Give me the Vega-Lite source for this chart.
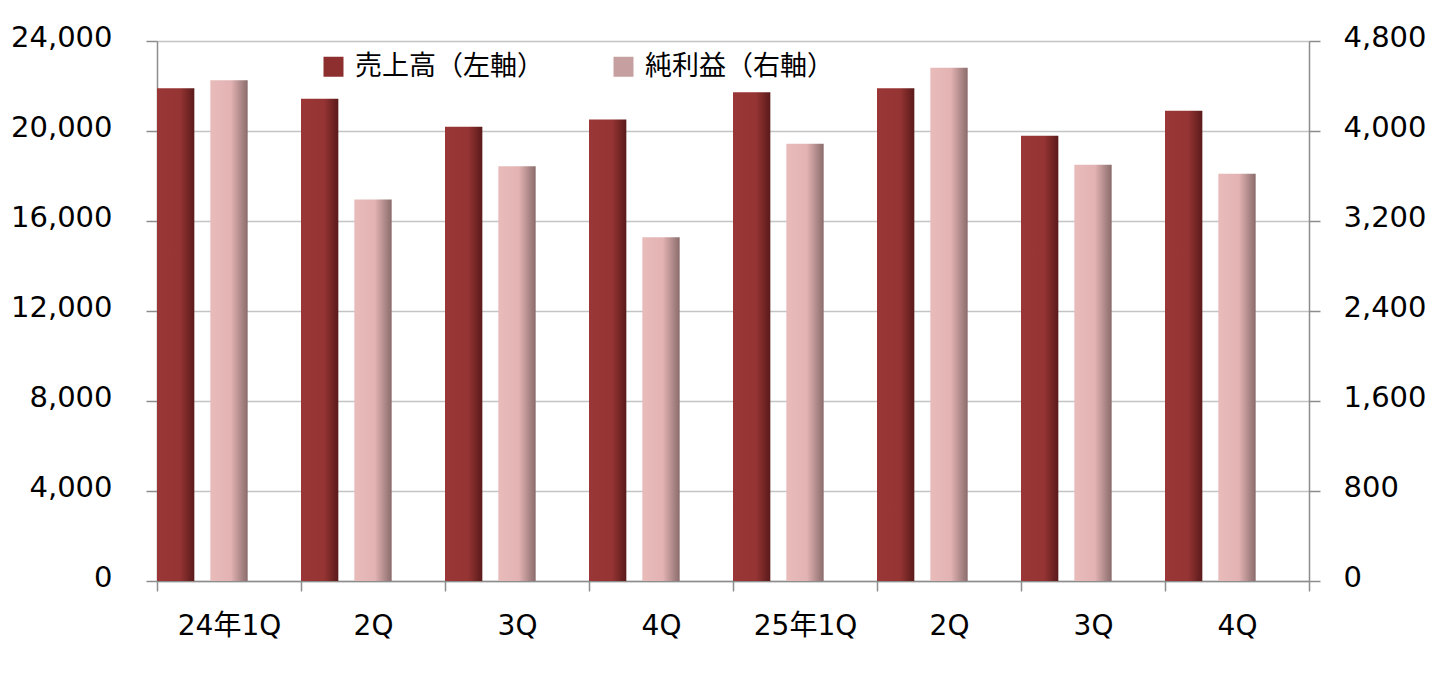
{
  "$schema": "https://vega.github.io/schema/vega-lite/v6.json",
  "autosize": "none",
  "width": 1152,
  "height": 540,
  "padding": {"left": 157, "top": 41, "right": 147, "bottom": 95},
  "background": "white",
  "config": {
    "view": {"stroke": null},
    "font": "DejaVu Sans, Noto Sans CJK JP",
    "axis": {"labelFont": "DejaVu Sans, Noto Sans CJK JP", "labelColor": "#000000", "titleColor": "#000000"}
  },
  "data": {
    "values": [
      {"q": "24年1Q", "series": "売上高（左軸）", "value": 21900},
      {"q": "24年2Q", "series": "売上高（左軸）", "value": 21430},
      {"q": "24年3Q", "series": "売上高（左軸）", "value": 20190},
      {"q": "24年4Q", "series": "売上高（左軸）", "value": 20510},
      {"q": "25年1Q", "series": "売上高（左軸）", "value": 21720},
      {"q": "25年2Q", "series": "売上高（左軸）", "value": 21900},
      {"q": "25年3Q", "series": "売上高（左軸）", "value": 19790},
      {"q": "25年4Q", "series": "売上高（左軸）", "value": 20900},
      {"q": "24年1Q", "series": "純利益（右軸）", "value": 4452},
      {"q": "24年2Q", "series": "純利益（右軸）", "value": 3391},
      {"q": "24年3Q", "series": "純利益（右軸）", "value": 3687},
      {"q": "24年4Q", "series": "純利益（右軸）", "value": 3056},
      {"q": "25年1Q", "series": "純利益（右軸）", "value": 3886},
      {"q": "25年2Q", "series": "純利益（右軸）", "value": 4562},
      {"q": "25年3Q", "series": "純利益（右軸）", "value": 3700},
      {"q": "25年4Q", "series": "純利益（右軸）", "value": 3620}
    ]
  },
  "encoding": {
    "x": {
      "field": "q",
      "type": "nominal",
      "sort": null,
      "scale": {"paddingInner": 0, "paddingOuter": 0},
      "axis": {
        "title": null,
        "labelAngle": 0,
        "labelFontSize": 28,
        "labelExpr": "indexof(datum.label, '1Q') >= 0 ? datum.label : substring(datum.label, 3)",
        "labelPadding": 21,
        "domainColor": "#8c8c8c",
        "domainWidth": 1.5,
        "tickColor": "#8c8c8c",
        "tickWidth": 1.5,
        "tickSize": 10,
        "tickBand": "extent",
        "grid": false
      }
    },
    "xOffset": {
      "field": "series",
      "type": "nominal",
      "scale": {"domain": ["売上高（左軸）", "純利益（右軸）", "_"], "paddingInner": 0.3, "paddingOuter": 0}
    }
  },
  "layer": [
    {
      "transform": [{"filter": "datum.series === '売上高（左軸）'"}],
      "mark": {
        "type": "bar",
        "strokeWidth": 0,
        "fill": {"gradient": "linear", "x1": 0, "y1": 0, "x2": 1, "y2": 0, "stops": [
          {"offset": 0, "color": "#9a3736"},
          {"offset": 0.62, "color": "#943433"},
          {"offset": 1, "color": "#5a1a1a"}
        ]}
      },
      "encoding": {
        "y": {
          "field": "value",
          "type": "quantitative",
          "scale": {"domain": [0, 24000], "nice": false},
          "axis": {
            "title": null,
            "orient": "left",
            "values": [0, 4000, 8000, 12000, 16000, 20000, 24000],
            "format": ",.0f",
            "labelFontSize": 29,
            "labelPadding": 34,
            "labelOffset": -4,
            "domainColor": "#8c8c8c",
            "domainWidth": 1.5,
            "tickColor": "#8c8c8c",
            "tickWidth": 1.5,
            "tickSize": 11,
            "grid": true,
            "gridColor": "#c4c4c4",
            "gridWidth": 1.5
          }
        }
      }
    },
    {
      "transform": [{"filter": "datum.series === '純利益（右軸）'"}],
      "mark": {
        "type": "bar",
        "strokeWidth": 0,
        "fill": {"gradient": "linear", "x1": 0, "y1": 0, "x2": 1, "y2": 0, "stops": [
          {"offset": 0, "color": "#e8bbbb"},
          {"offset": 0.55, "color": "#e3b3b3"},
          {"offset": 1, "color": "#8a6c6c"}
        ]}
      },
      "encoding": {
        "y": {
          "field": "value",
          "type": "quantitative",
          "scale": {"domain": [0, 4800], "nice": false},
          "axis": {
            "title": null,
            "orient": "right",
            "values": [0, 800, 1600, 2400, 3200, 4000, 4800],
            "format": ",.0f",
            "labelFontSize": 29,
            "labelPadding": 23,
            "labelOffset": -4,
            "domainColor": "#8c8c8c",
            "domainWidth": 1.5,
            "tickColor": "#8c8c8c",
            "tickWidth": 1.5,
            "tickSize": 11,
            "grid": false
          }
        }
      }
    },
    {
      "transform": [{"filter": "false"}],
      "mark": {"type": "bar"},
      "encoding": {
        "fill": {
          "field": "series",
          "type": "nominal",
          "scale": {"domain": ["売上高（左軸）", "純利益（右軸）"], "range": ["#8c2f2e", "#c6a0a0"]},
          "legend": {
            "title": null,
            "orient": "none",
            "legendX": 163,
            "legendY": 12,
            "direction": "horizontal",
            "columns": 2,
            "columnPadding": 66,
            "symbolType": "square",
            "symbolSize": 400,
            "symbolStrokeWidth": 0,
            "symbolOpacity": 1,
            "symbolOffset": 0,
            "labelOffset": 8,
            "labelFontSize": 27,
            "labelFont": "Noto Sans CJK JP",
            "labelColor": "#000000",
            "labelLimit": 400,
            "padding": 0
          }
        }
      }
    }
  ],
  "resolve": {"scale": {"y": "independent"}}
}
